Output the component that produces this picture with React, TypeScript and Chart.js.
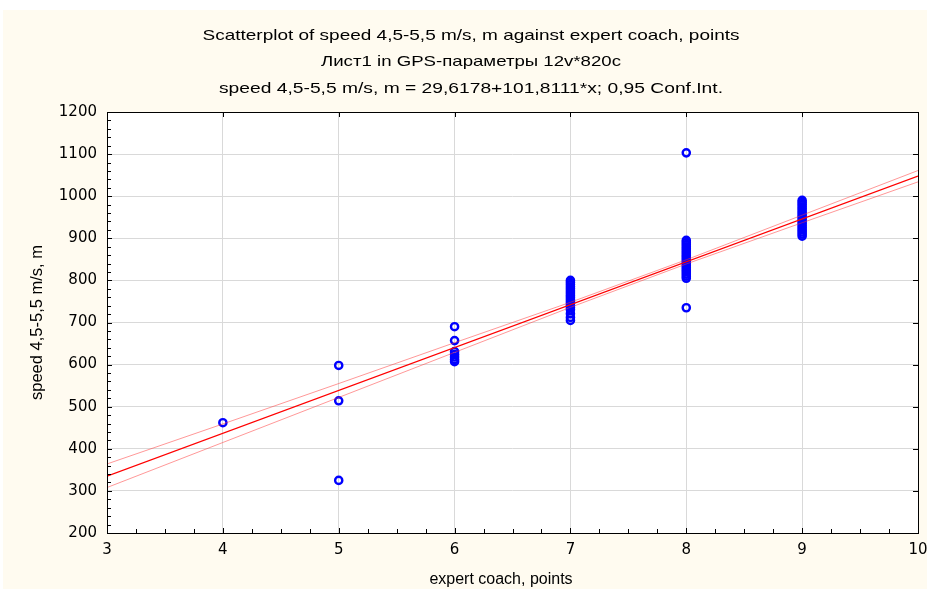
import React, { useEffect, useRef } from "react";
import { Chart, registerables } from "chart.js";

Chart.register(...registerables);

const titleLines = [
  "Scatterplot of speed 4,5-5,5 m/s, m against expert coach, points",
  "Лист1 in GPS-параметры 12v*820c",
  "speed 4,5-5,5 m/s, m = 29,6178+101,8111*x; 0,95 Conf.Int.",
];
const xAxisTitle = "expert coach, points";
const yAxisTitle = "speed 4,5-5,5 m/s, m";

const scores = [4, 5, 6, 7, 8, 9];
const speedAt4 = [462];
const speedAt5 = [598, 514, 325];
const speedAt6 = [690, 657, 631, 624, 618, 612, 607];
const speedAt7 = [800, 795, 790, 785, 780, 775, 770, 765, 760, 755, 750, 745, 740, 735, 730, 721, 712, 705];
const speedAt8 = [1103, 895, 890, 885, 880, 875, 870, 865, 860, 855, 850, 845, 840, 835, 830, 825, 820, 815, 810, 805, 735];
const speedAt9 = [990, 985, 980, 975, 970, 965, 960, 955, 950, 945, 940, 935, 930, 925, 920, 915, 910, 905];
const speedGroups = [speedAt4, speedAt5, speedAt6, speedAt7, speedAt8, speedAt9];

const fitX = [3, 10];
const fitY = [335.1, 1047.7];
const bandX = [3, 4, 5, 6, 7, 8, 9, 10];
const bandUpper = [364, 459, 555, 652, 748, 849, 955, 1061];
const bandLower = [308, 415, 522, 629, 736, 839, 937, 1034];

const CREAM = "rgb(255,251,240)";
const FONT = "'Liberation Sans', Arial, sans-serif";
const TICK_FONT = "'DejaVu Sans', 'Liberation Sans', sans-serif";

const TITLE_CX = 471;
const TITLE_Y = [36, 62, 89];
const TITLE_W = [537, 300, 504];

const framePlugin = {
  id: "frame",
  beforeDraw(chart: any) {
    const { ctx, width, height, chartArea: a } = chart;
    ctx.save();
    ctx.fillStyle = "#ffffff";
    ctx.fillRect(0, 0, width, height);
    ctx.fillStyle = CREAM;
    ctx.fillRect(3, 10, width - 3, height - 10);
    ctx.fillStyle = "#ffffff";
    ctx.fillRect(a.left, a.top, a.right - a.left, a.bottom - a.top);
    ctx.restore();
  },
  afterDraw(chart: any) {
    const { ctx, chartArea: a, scales } = chart;
    const xs = scales.x;
    const ys = scales.y;
    ctx.save();
    ctx.strokeStyle = "#000000";
    ctx.lineWidth = 1;
    ctx.beginPath();
    for (let v = 3; v <= 10.001; v += 0.25) {
      const px = Math.round(xs.getPixelForValue(v)) + 0.5;
      const major = Math.abs(v - Math.round(v)) < 1e-6;
      const len = major ? 5 : 4;
      ctx.moveTo(px, a.bottom);
      ctx.lineTo(px, a.bottom - len);
      if (major) {
        ctx.moveTo(px, a.top);
        ctx.lineTo(px, a.top + len);
      }
    }
    for (let v = 200; v <= 1200; v += 20) {
      const py = Math.round(ys.getPixelForValue(v)) + 0.5;
      const major = v % 100 === 0;
      const len = major ? 5 : 4;
      ctx.moveTo(a.left, py);
      ctx.lineTo(a.left + len, py);
      if (major) {
        ctx.moveTo(a.right, py);
        ctx.lineTo(a.right - len, py);
      }
    }
    ctx.stroke();
    ctx.strokeRect(
      Math.round(a.left) + 0.5,
      Math.round(a.top) + 0.5,
      Math.round(a.right - a.left),
      Math.round(a.bottom - a.top)
    );

    ctx.fillStyle = "#000000";
    ctx.textAlign = "center";
    ctx.textBaseline = "middle";
    ctx.font = `15px ${FONT}`;
    titleLines.forEach((line, i) => {
      const w = ctx.measureText(line).width;
      const sx = TITLE_W[i] / w;
      ctx.save();
      ctx.translate(TITLE_CX, TITLE_Y[i]);
      ctx.scale(sx, 1);
      ctx.fillText(line, 0, 0);
      ctx.restore();
    });

    ctx.font = `16px ${FONT}`;
    ctx.fillText(xAxisTitle, 501, 580);
    ctx.save();
    ctx.translate(37, (a.top + a.bottom) / 2);
    ctx.rotate(-Math.PI / 2);
    ctx.font = `16.5px ${FONT}`;
    ctx.fillText(yAxisTitle, 0, 0);
    ctx.restore();
    ctx.restore();
  },
};

export default function App() {
  const ref = useRef<HTMLCanvasElement | null>(null);

  useEffect(() => {
    if (!ref.current) return;
    const points: { x: number; y: number }[] = [];
    scores.forEach((s, i) => speedGroups[i].forEach((v) => points.push({ x: s, y: v })));

    const chart = new Chart(ref.current, {
      type: "scatter",
      data: {
        datasets: [
          {
            type: "line",
            data: fitX.map((x, i) => ({ x, y: fitY[i] })),
            borderColor: "#ff0000",
            borderWidth: 1.4,
            pointRadius: 0,
            fill: false,
          },
          {
            type: "line",
            data: bandX.map((x, i) => ({ x, y: bandUpper[i] })),
            borderColor: "rgba(255,50,50,0.5)",
            borderWidth: 1,
            pointRadius: 0,
            fill: false,
          },
          {
            type: "line",
            data: bandX.map((x, i) => ({ x, y: bandLower[i] })),
            borderColor: "rgba(255,50,50,0.5)",
            borderWidth: 1,
            pointRadius: 0,
            fill: false,
          },
          {
            type: "scatter",
            data: points,
            borderColor: "#0000ff",
            backgroundColor: "rgba(255,255,255,0)",
            borderWidth: 2.4,
            pointRadius: 3.6,
          },
        ],
      },
      options: {
        animation: false,
        responsive: false,
        maintainAspectRatio: false,
        events: [],
        layout: { autoPadding: false, padding: { top: 112, left: 0, right: 9, bottom: 0 } },
        plugins: {
          legend: { display: false },
          tooltip: { enabled: false },
          title: { display: false },
        },
        scales: {
          x: {
            type: "linear",
            min: 3,
            max: 10,
            ticks: {
              stepSize: 1,
              color: "#000000",
              font: { family: TICK_FONT, size: 15 },
              padding: 8,
              maxRotation: 0,
              callback: (v: any) => String(v),
            },
            grid: { color: "#d9d9d9", drawTicks: false, tickLength: 0 },
            border: { display: false },
            afterFit(scale: any) {
              scale.height = 56;
              scale.paddingLeft = 0;
              scale.paddingRight = 0;
            },
          },
          y: {
            type: "linear",
            min: 200,
            max: 1200,
            ticks: {
              stepSize: 100,
              color: "#000000",
              font: { family: TICK_FONT, size: 15 },
              padding: 10,
              callback: (v: any) => String(v),
            },
            grid: { color: "#d9d9d9", drawTicks: false, tickLength: 0 },
            border: { display: false },
            afterFit(scale: any) {
              scale.width = 107;
              scale.paddingTop = 0;
              scale.paddingBottom = 0;
            },
          },
        },
      },
      plugins: [framePlugin],
    });
    return () => chart.destroy();
  }, []);

  return (
    <div style={{ position: "fixed", left: 0, top: 0, width: 927, height: 589 }}>
      <canvas ref={ref} width={927} height={589} style={{ display: "block", width: 927, height: 589 }} />
    </div>
  );
}
